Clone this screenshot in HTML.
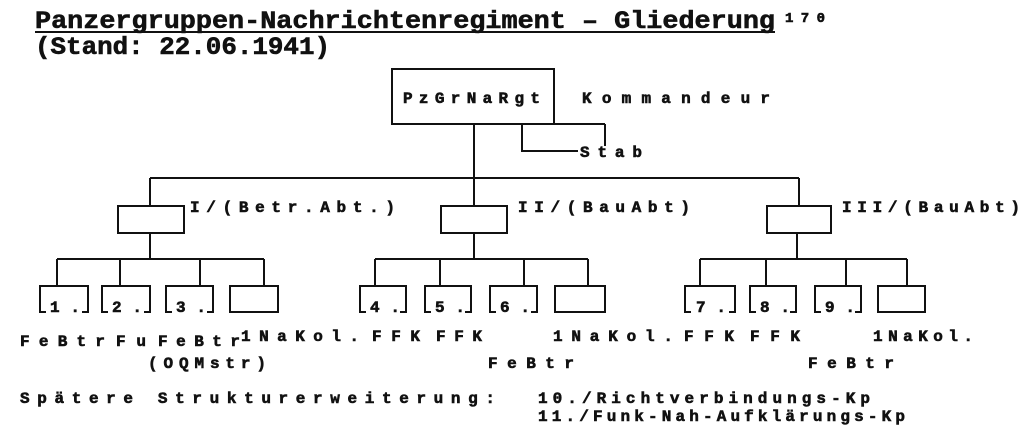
<!DOCTYPE html>
<html><head><meta charset="utf-8"><style>
html,body{margin:0;padding:0;background:#fff;width:1024px;height:430px;overflow:hidden}
svg text{font-family:"Liberation Mono",monospace;font-weight:bold;fill:#111;stroke:#111;stroke-width:0.6}
</style></head><body>
<svg width="1024" height="430" viewBox="0 0 1024 430" xmlns="http://www.w3.org/2000/svg">
<g>
<text x="35" y="28" font-size="25" textLength="740" lengthAdjust="spacingAndGlyphs">Panzergruppen-Nachrichtenregiment – Gliederung</text>
<line x1="35" y1="32" x2="775" y2="32" stroke="#111" stroke-width="2"/>
<text x="785" y="22" font-size="14" textLength="40" lengthAdjust="spacing">170</text>
<text x="35" y="54" font-size="25" textLength="295" lengthAdjust="spacingAndGlyphs">(Stand: 22.06.1941)</text>
</g>
<g stroke="#111" stroke-width="2" fill="none">
<rect x="392" y="69" width="162" height="55"/>
<line x1="554" y1="124" x2="605" y2="124"/>
<line x1="605" y1="124" x2="605" y2="146"/>
<line x1="474" y1="124" x2="474" y2="206"/>
<polyline points="522,124 522,151 578,151"/>
<line x1="150" y1="178" x2="799" y2="178"/>
<line x1="150" y1="178" x2="150" y2="206"/>
<line x1="799" y1="178" x2="799" y2="206"/>
<rect x="118" y="206" width="66" height="27"/>
<rect x="441" y="206" width="66" height="27"/>
<rect x="767" y="206" width="64" height="27"/>
<line x1="150" y1="233" x2="150" y2="259"/>
<line x1="474" y1="233" x2="474" y2="259"/>
<line x1="797" y1="233" x2="797" y2="259"/>
<line x1="57" y1="259" x2="264" y2="259"/>
<line x1="375" y1="259" x2="588" y2="259"/>
<line x1="700" y1="259" x2="907" y2="259"/>
<line x1="57" y1="259" x2="57" y2="286"/><line x1="120" y1="259" x2="120" y2="286"/><line x1="200" y1="259" x2="200" y2="286"/><line x1="264" y1="259" x2="264" y2="286"/>
<line x1="375" y1="259" x2="375" y2="286"/><line x1="440" y1="259" x2="440" y2="286"/><line x1="524" y1="259" x2="524" y2="286"/><line x1="588" y1="259" x2="588" y2="286"/>
<line x1="700" y1="259" x2="700" y2="286"/><line x1="766" y1="259" x2="766" y2="286"/><line x1="846" y1="259" x2="846" y2="286"/><line x1="907" y1="259" x2="907" y2="286"/>
<rect x="40" y="286" width="48" height="26"/><rect x="102" y="286" width="48" height="26"/><rect x="166" y="286" width="47" height="26"/><rect x="230" y="286" width="48" height="26"/>
<rect x="360" y="286" width="46" height="26"/><rect x="425" y="286" width="46" height="26"/><rect x="490" y="286" width="47" height="26"/><rect x="555" y="286" width="50" height="26"/>
<rect x="685" y="286" width="50" height="26"/><rect x="750" y="286" width="46" height="26"/><rect x="815" y="286" width="46" height="26"/><rect x="878" y="286" width="47" height="26"/>
</g>
<g fill="#fff">
<rect x="46" y="300" width="36" height="14"/><rect x="108" y="300" width="36" height="14"/><rect x="172" y="300" width="35" height="14"/>
<rect x="366" y="300" width="34" height="14"/><rect x="431" y="300" width="34" height="14"/><rect x="496" y="300" width="35" height="14"/>
<rect x="691" y="300" width="38" height="14"/><rect x="756" y="300" width="34" height="14"/><rect x="821" y="300" width="34" height="14"/>
</g>
<g font-size="16">
<text x="403" y="103" textLength="137" lengthAdjust="spacing">PzGrNaRgt</text>
<text x="582" y="103" textLength="188" lengthAdjust="spacing">Kommandeur</text>
<text x="580" y="157" textLength="62" lengthAdjust="spacing">Stab</text>
<text x="190" y="212" textLength="205" lengthAdjust="spacing">I/(Betr.Abt.)</text>
<text x="518" y="212" textLength="172" lengthAdjust="spacing">II/(BauAbt)</text>
<text x="842" y="212" textLength="178" lengthAdjust="spacing">III/(BauAbt)</text>
<text x="50" y="312" textLength="30" lengthAdjust="spacing">1.</text><text x="112" y="312" textLength="30" lengthAdjust="spacing">2.</text><text x="176" y="312" textLength="30" lengthAdjust="spacing">3.</text>
<text x="370" y="312" textLength="30" lengthAdjust="spacing">4.</text><text x="435" y="312" textLength="30" lengthAdjust="spacing">5.</text><text x="500" y="312" textLength="30" lengthAdjust="spacing">6.</text>
<text x="696" y="312" textLength="30" lengthAdjust="spacing">7.</text><text x="760" y="312" textLength="30" lengthAdjust="spacing">8.</text><text x="825" y="312" textLength="30" lengthAdjust="spacing">9.</text>
<text x="20" y="346" textLength="85" lengthAdjust="spacing">FeBtr</text>
<text x="116" y="346" textLength="30" lengthAdjust="spacing">Fu</text>
<text x="158" y="346" textLength="82" lengthAdjust="spacing">FeBtr</text>
<text x="241" y="341" textLength="118" lengthAdjust="spacing">1NaKol.</text>
<text x="372" y="341" textLength="48" lengthAdjust="spacing">FFK</text>
<text x="436" y="341" textLength="46" lengthAdjust="spacing">FFK</text>
<text x="553" y="341" textLength="120" lengthAdjust="spacing">1NaKol.</text>
<text x="684" y="341" textLength="50" lengthAdjust="spacing">FFK</text>
<text x="750" y="341" textLength="50" lengthAdjust="spacing">FFK</text>
<text x="873" y="341" textLength="100" lengthAdjust="spacing">1NaKol.</text>
<text x="148" y="368" textLength="118" lengthAdjust="spacing">(OQMstr)</text>
<text x="488" y="368" textLength="86" lengthAdjust="spacing">FeBtr</text>
<text x="808" y="368" textLength="86" lengthAdjust="spacing">FeBtr</text>
<text x="20" y="403" textLength="475" lengthAdjust="spacing">Spätere Strukturerweiterung:</text>
<text x="538" y="403" textLength="332" lengthAdjust="spacing">10./Richtverbindungs-Kp</text>
<text x="538" y="421" textLength="367" lengthAdjust="spacing">11./Funk-Nah-Aufklärungs-Kp</text>
</g>
</svg>
</body></html>
